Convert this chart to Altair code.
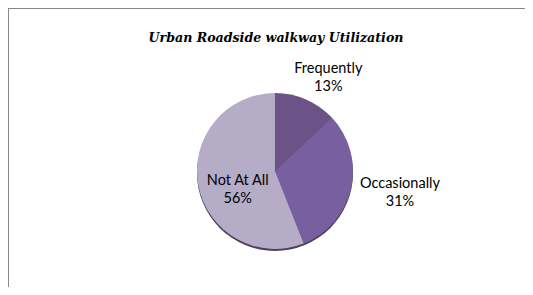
import altair as alt
import pandas as pd

categories = ["Frequently", "Occasionally", "Not At All"]
values = [13, 31, 56]
colors = ["#6b5388", "#7860a0", "#b5acc8"]
title_text = "Urban Roadside walkway Utilization"

df = pd.DataFrame({
    "cat": categories,
    "value": values,
    "idx": list(range(len(categories))),
    "label": [f"{c}\n{v}%" for c, v in zip(categories, values)],
})

W, H = 517, 279
CX, CY, R = 267, 163, 78
TAU = 6.283185307179586

theta_scale = alt.Scale(domain=[0, 100], range=[0, TAU])
color_scale = alt.Scale(domain=categories, range=colors)

base = alt.Chart(df)

shadow = base.transform_filter(alt.datum.idx == 0).mark_arc(
    radius=R, theta=0, theta2=TAU, color="#4a4258"
).encode(x=alt.value(CX), y=alt.value(CY + 2))

pie = base.mark_arc(radius=R, stroke=None).encode(
    theta=alt.Theta("value:Q", stack=True, scale=theta_scale),
    color=alt.Color("cat:N", scale=color_scale, legend=None),
    order=alt.Order("idx:Q"),
    x=alt.value(CX),
    y=alt.value(CY),
)

def label_layer(cat, r, dx, dy):
    return base.transform_window(
        cum="sum(value)", sort=[alt.SortField("idx")], frame=[None, 0]
    ).transform_calculate(
        mid="datum.cum - datum.value / 2"
    ).transform_filter(alt.datum.cat == cat).mark_text(
        radius=r, dx=dx, dy=dy, font="Lato", fontSize=14.5, lineBreak="\n",
        lineHeight=18, align="center", baseline="middle", color="#000000"
    ).encode(
        theta=alt.Theta("mid:Q", stack=None, scale=theta_scale),
        text="label:N",
        x=alt.value(CX),
        y=alt.value(CY),
    )

lab1 = label_layer("Frequently", 109, 10, -2)
lab2 = label_layer("Occasionally", 127, 1, -15)
lab3 = label_layer("Not At All", 41, 3, 2)

title = base.transform_filter(alt.datum.idx == 0).mark_text(
    text=title_text, font="DejaVu Serif", fontStyle="italic", fontWeight="bold",
    fontSize=12.6, color="#000000", align="center", baseline="middle"
).encode(x=alt.value(268), y=alt.value(30))

left_rule = base.transform_filter(alt.datum.idx == 0).mark_rule(
    color="#888888", strokeWidth=1
).encode(x=alt.value(0.5), y=alt.value(0), y2=alt.value(H))
top_rule = base.transform_filter(alt.datum.idx == 0).mark_rule(
    color="#888888", strokeWidth=1
).encode(y=alt.value(0.5), x=alt.value(0), x2=alt.value(W))

chart = alt.layer(
    left_rule, top_rule, shadow, pie, lab1, lab2, lab3, title
).properties(
    width=W, height=H, padding=0, autosize=alt.AutoSizeParams(type="none")
).configure_view(stroke=None).configure(background="white")

chart.save("out.html", embed_options={"renderer": "svg", "actions": False})
